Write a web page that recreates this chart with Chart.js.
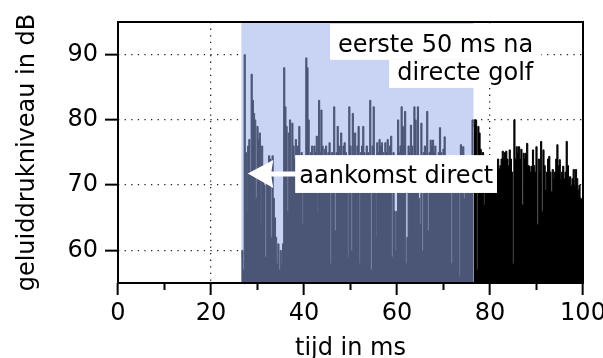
<!DOCTYPE html>
<html>
<head>
<meta charset="utf-8">
<script src="https://cdn.jsdelivr.net/npm/chart.js@4.4.0/dist/chart.umd.min.js"></script>
<style>
  html, body { margin: 0; padding: 0; background: #fff; }
</style>
</head>
<body>
<canvas id="impulseChart" width="603" height="358"></canvas>
<script>
// sample spacing of the measured levels (ms)
const sampleStep = 0.25;

// first 50 ms after the direct sound (starts at 26.5 ms)
const earlyStart = 26.5;
const earlyLevels = [
    59, 60, 57, 90, 75, 66, 76, 77, 72, 87, 83, 81, 80, 68, 79, 77, 78, 64, 76, 73,
    70, 59, 72, 70, 74.5, 74, 62, 74.5, 68, 65, 62, 58, 61, 57, 60, 58, 61, 88, 82, 79,
    66, 78, 80, 72, 79.5, 76, 74, 77, 71, 76, 79, 73, 75, 64, 74, 73, 89.5, 88, 80, 74,
    75, 76, 74, 76, 75, 77.5, 66, 83, 75, 81.5, 76, 74, 75.5, 76, 74, 75, 76.5, 58, 75, 74,
    82, 63, 75, 79, 76, 75, 78, 74, 76, 76.5, 75, 74, 59, 82, 76, 60, 81, 75, 78, 74,
    76, 79, 58, 75, 76, 79, 75, 74, 76, 75, 73, 83, 57, 76, 82, 74, 62, 76.5, 75, 77,
    76, 76.5, 75, 74, 76.5, 75, 77, 74, 76, 77.5, 59, 75, 66, 60, 66, 80, 75, 76, 82, 79,
    76, 81.3, 58, 62, 76, 75, 79.2, 76, 73, 82, 80, 69, 82, 68, 64, 79.5, 60, 75, 76, 74,
    81.3, 63, 75, 76.9, 76, 76.9, 75, 76, 74, 73, 75, 78.8, 75, 74, 75.5, 77.4, 73, 72, 73, 72,
    72, 58, 73, 72, 71, 73, 72, 74, 56, 76.2, 73, 75.9, 68, 74, 73, 72, 73, 72, 73, 80,
    79
];

// everything after those 50 ms
const lateStart = 76.5;
const lateLevels = [
    80, 79.5, 80, 57, 79, 78, 75.5, 73,
    75, 67, 72, 73, 71, 73, 72, 74,
    70, 73, 72, 74, 72, 74, 72.5, 73,
    74, 75.2, 74, 75, 75.2, 74, 73, 75.4,
    74, 72, 58, 80, 74, 75.9, 75, 75.9,
    74, 75.5, 67, 74.9, 74, 74.9, 76.4, 73,
    72.9, 72, 72.9, 75.4, 73, 72, 75.9, 64,
    74, 72, 76.7, 66, 75.4, 73, 69.3, 72,
    74, 74.4, 72, 69, 72.4, 71, 72, 74,
    76.2, 73, 73.9, 71, 72, 72.9, 71, 72,
    76.7, 73, 71, 71.3, 70, 71, 72.4, 70,
    72.4, 71, 69.3, 70, 68, 67.8, 67
];

// shaded window: 50 ms after the direct sound
const windowStart = 26.5;
const windowEnd = 76.5;

const xTicks = [0, 10, 20, 30, 40, 50, 60, 70, 80, 90, 100];
const xLabelTicks = [0, 20, 40, 60, 80, 100];
const xGridTicks = [20, 40, 60, 80];
const yTicks = [60, 70, 80, 90];
const yMin = 55;
const yMax = 95;

const FONT = "'DejaVu Sans', sans-serif";
Chart.defaults.font.family = FONT;
Chart.defaults.color = "#000";

function toPoints(start, levels) {
    return levels.map((v, i) => ({ x: start + i * sampleStep, y: v }));
}

const overlayPlugin = {
    id: "overlay",
    afterDraw(chart) {
        const { ctx, chartArea: a, scales: { x, y } } = chart;
        ctx.save();

        // frame round the plot
        ctx.strokeStyle = "#000";
        ctx.lineWidth = 2;
        ctx.strokeRect(a.left, a.top, a.right - a.left, a.bottom - a.top);

        // short ticks on the odd tens
        xTicks.filter(v => !xLabelTicks.includes(v)).forEach(v => {
            const px = x.getPixelForValue(v);
            ctx.beginPath();
            ctx.moveTo(px, a.bottom);
            ctx.lineTo(px, a.bottom + 7);
            ctx.stroke();
        });

        // white label boxes
        ctx.fillStyle = "#fff";
        const box = (x1, x2, y1, y2) => {
            const l = x.getPixelForValue(x1), r = x.getPixelForValue(x2);
            const t = y.getPixelForValue(y1), b = y.getPixelForValue(y2);
            ctx.fillRect(l, t, r - l, b - t);
        };
        box(45.6, 91.0, 94.7, 89.2);
        box(58.3, 91.0, 89.2, 84.9);
        box(38.1, 81.5, 74.6, 68.8);

        // arrow pointing at the arrival of the direct sound
        const tip = x.getPixelForValue(27.9);
        const base = x.getPixelForValue(33.4);
        const tail = x.getPixelForValue(38.3);
        const cy = y.getPixelForValue(71.7);
        ctx.beginPath();
        ctx.moveTo(tip, cy - 0.5);
        ctx.lineTo(base, cy - 14);
        ctx.lineTo(base - 2, cy - 2.5);
        ctx.lineTo(tail, cy - 2.5);
        ctx.lineTo(tail, cy + 2.5);
        ctx.lineTo(base - 2, cy + 2.5);
        ctx.lineTo(base, cy + 14);
        ctx.closePath();
        ctx.fill();

        ctx.fillStyle = "#000";
        ctx.font = "24px " + FONT;
        ctx.textBaseline = "alphabetic";
        ctx.textAlign = "right";
        ctx.fillText("eerste 50 ms na", x.getPixelForValue(89.3), y.getPixelForValue(90.4));
        ctx.fillText("directe golf", x.getPixelForValue(89.3), y.getPixelForValue(86.1));
        ctx.textAlign = "left";
        ctx.fillText("aankomst direct", x.getPixelForValue(39.0), y.getPixelForValue(70.4));

        ctx.restore();
    }
};

new Chart(document.getElementById("impulseChart"), {
    type: "line",
    data: {
        datasets: [
            {
                data: [{ x: windowStart, y: yMax }, { x: windowEnd, y: yMax }],
                backgroundColor: "#c9d3f3",
                borderWidth: 0,
                fill: "start",
                order: 3
            },
            {
                data: toPoints(earlyStart, earlyLevels),
                backgroundColor: "#4b5576",
                borderColor: "#4b5576",
                borderWidth: 1,
                stepped: "middle",
                fill: "start",
                order: 2
            },
            {
                data: toPoints(lateStart, lateLevels),
                backgroundColor: "#000",
                borderColor: "#000",
                borderWidth: 1,
                stepped: "middle",
                fill: "start",
                order: 1
            }
        ]
    },
    options: {
        responsive: false,
        devicePixelRatio: 1,
        animation: false,
        layout: { padding: { top: 22, right: 20, left: 0, bottom: 0 } },
        elements: { point: { radius: 0 } },
        plugins: {
            legend: { display: false },
            tooltip: { enabled: false }
        },
        scales: {
            x: {
                type: "linear",
                min: 0,
                max: 100,
                z: 1,
                afterBuildTicks: s => { s.ticks = xTicks.map(v => ({ value: v })); },
                afterFit: s => { s.height = 75; s.paddingLeft = 0; s.paddingRight = 0; },
                ticks: {
                    autoSkip: false,
                    maxRotation: 0,
                    padding: 4,
                    font: { size: 24 },
                    callback: v => xLabelTicks.includes(v) ? String(v) : ""
                },
                grid: {
                    color: c => c.tick && xGridTicks.includes(c.tick.value) ? "#222" : "rgba(0,0,0,0)",
                    lineWidth: 1.3,
                    tickColor: c => c.tick && xLabelTicks.includes(c.tick.value) ? "#000" : "rgba(0,0,0,0)",
                    tickLength: 12,
                    tickWidth: 2
                },
                border: { display: false, dash: [1.3, 5.3] },
                title: {
                    display: true,
                    text: "tijd in ms",
                    font: { size: 24, lineHeight: 0.8 },
                    padding: { top: 0, bottom: 0 }
                }
            },
            y: {
                min: yMin,
                max: yMax,
                z: 1,
                afterBuildTicks: s => { s.ticks = yTicks.map(v => ({ value: v })); },
                afterFit: s => { s.width = 118; },
                ticks: {
                    padding: 7,
                    font: { size: 24 }
                },
                grid: {
                    color: "#222",
                    lineWidth: 1.3,
                    tickColor: "#000",
                    tickLength: 13,
                    tickWidth: 2
                },
                border: { display: false, dash: [1.3, 5.3] },
                title: {
                    display: true,
                    text: "geluiddrukniveau in dB",
                    font: { size: 24 },
                    padding: { top: 13, bottom: 4 }
                }
            }
        }
    },
    plugins: [overlayPlugin]
});
</script>
</body>
</html>
